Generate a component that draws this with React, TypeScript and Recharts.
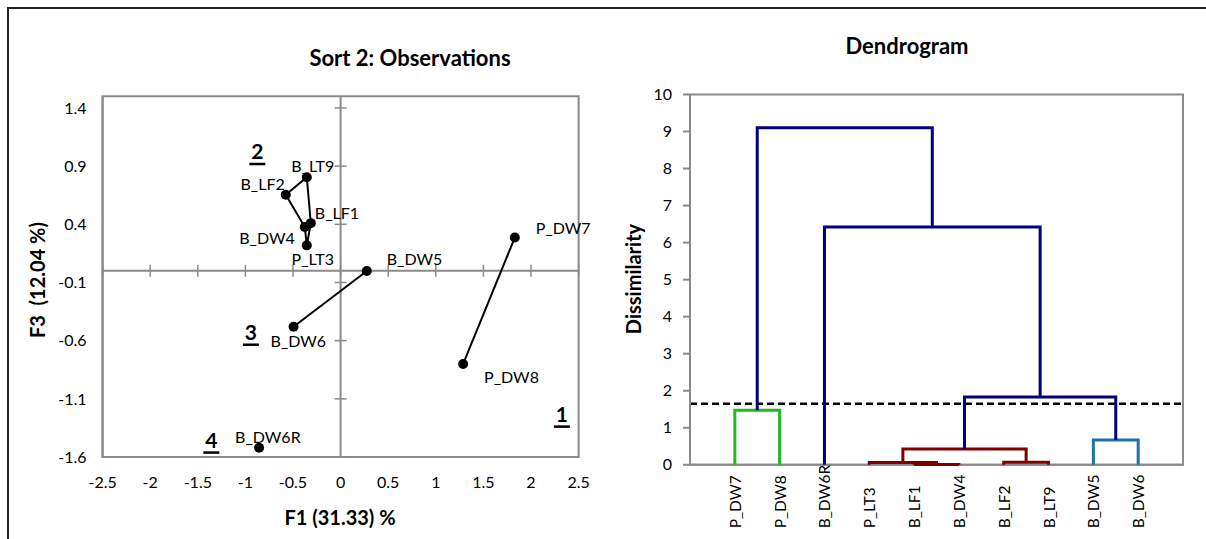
import React from 'react';
import { ScatterChart, Scatter, XAxis, YAxis, ReferenceLine, ReferenceArea } from 'recharts';

const FONT = 'Lato, "Open Sans", sans-serif';
const GRAY = '#8a8a8a';

// ---------- Observations chart (F1 vs F3) ----------
const obsNames = ['B_LT9', 'B_LF2', 'B_LF1', 'B_DW4', 'P_LT3', 'B_DW5', 'B_DW6', 'P_DW7', 'P_DW8', 'B_DW6R'];
const obsF1 = [-0.355, -0.576, -0.313, -0.376, -0.355, 0.275, -0.494, 1.83, 1.287, -0.856];
const obsF3 = [0.805, 0.654, 0.41, 0.376, 0.219, -0.002, -0.48, 0.286, -0.8, -1.52];
const f1Ticks = [-2.5, -2, -1.5, -1, -0.5, 0, 0.5, 1, 1.5, 2, 2.5];
const f3Ticks = [-1.6, -1.1, -0.6, -0.1, 0.4, 0.9, 1.4];
const groupOutlines = [
  ['B_LT9', 'B_LF2', 'B_DW4', 'P_LT3', 'B_LF1', 'B_LT9'],
  ['B_DW5', 'B_DW6'],
  ['P_DW7', 'P_DW8'],
];
const clusterIds = ['1', '2', '3', '4'];
const clusterF1 = [2.324, -0.874, -0.943, -1.358];
const clusterF3 = [-1.223, 1.034, -0.519, -1.446];

// label placement (pixels, relative to point)
const labelPlace: Record<string, { dx: number; dy: number; anchor: string }> = {
  B_LT9: { dx: 6, dy: -12, anchor: 'middle' },
  B_LF2: { dx: -1, dy: -11, anchor: 'end' },
  B_LF1: { dx: 4, dy: -11, anchor: 'start' },
  B_DW4: { dx: -10, dy: 10, anchor: 'end' },
  P_LT3: { dx: 6, dy: 13, anchor: 'middle' },
  B_DW5: { dx: 20, dy: -13, anchor: 'start' },
  B_DW6: { dx: -23, dy: 14, anchor: 'start' },
  P_DW7: { dx: 21, dy: -10, anchor: 'start' },
  P_DW8: { dx: 21, dy: 13, anchor: 'start' },
  B_DW6R: { dx: -24, dy: -11, anchor: 'start' },
};

// ---------- Dendrogram ----------
const leafNames = ['P_DW7', 'P_DW8', 'B_DW6R', 'P_LT3', 'B_LF1', 'B_DW4', 'B_LF2', 'B_LT9', 'B_DW5', 'B_DW6'];
const mergeLeft = [4, 3, 6, 11, 8, 0, 13, 2, 15];
const mergeRight = [5, 10, 7, 12, 9, 1, 14, 16, 17];
const mergeHeight = [0.01, 0.06, 0.07, 0.43, 0.67, 1.47, 1.83, 6.42, 9.1];
const mergeGroup = ['red', 'red', 'red', 'red', 'blue', 'green', 'navy', 'navy', 'navy'];
const dissimTicks = [0, 1, 2, 3, 4, 5, 6, 7, 8, 9, 10];
const leafTicks = [1, 2, 3, 4, 5, 6, 7, 8, 9, 10];
const truncationLevel = 1.65;

const groupColor: Record<string, string> = {
  red: '#800000',
  blue: '#1b74a6',
  green: '#1fbb1f',
  navy: '#00007f',
};

// build data for the scatter chart
const obsPoints = obsNames.map((n, i) => ({ name: n, x: obsF1[i], y: obsF3[i] }));
const outlineData = groupOutlines.map((g) =>
  g.map((n) => {
    const i = obsNames.indexOf(n);
    return { x: obsF1[i], y: obsF3[i] };
  })
);
const clusterData = clusterIds.map((c, i) => ({ id: c, x: clusterF1[i], y: clusterF3[i] }));
const xTickMarks = f1Ticks.map((t) => ({ x: t, y: 0 }));
const yTickMarks = f3Ticks.map((t) => ({ x: 0, y: t }));

// build dendrogram link data
const nodeX: number[] = leafNames.map((_, i) => i + 1);
const nodeH: number[] = leafNames.map(() => 0);
const links = mergeHeight.map((h, k) => {
  const l = mergeLeft[k];
  const r = mergeRight[k];
  const xl = nodeX[l];
  const xr = nodeX[r];
  nodeX.push((xl + xr) / 2);
  nodeH.push(h);
  return {
    color: groupColor[mergeGroup[k]],
    pts: [
      { x: xl, y: nodeH[l] },
      { x: xl, y: h },
      { x: xr, y: h },
      { x: xr, y: nodeH[r] },
    ],
  };
});

const Hidden = () => <g />;

const PointShape = (p: any) => {
  const { cx, cy, payload } = p;
  const lp = labelPlace[payload.name];
  return (
    <g>
      <circle cx={cx} cy={cy} r={5} fill="#000" />
      <text
        x={cx + lp.dx}
        y={cy + lp.dy}
        textAnchor={lp.anchor as any}
        dominantBaseline="central"
        fontFamily={FONT}
        fontSize={16}
        fill="#000"
      >
        {payload.name}
      </text>
    </g>
  );
};

const ClusterShape = (p: any) => {
  const { cx, cy, payload } = p;
  return (
    <g>
      <text
        x={cx}
        y={cy}
        textAnchor="middle"
        dominantBaseline="central"
        fontFamily={FONT}
        fontWeight="bold"
        fontSize={21}
        fill="#000"
      >
        {payload.id}
      </text>
      <line x1={cx - 8} x2={cx + 8} y1={cy + 13.5} y2={cy + 13.5} stroke="#000" strokeWidth={2.5} />
    </g>
  );
};

const VTick = (p: any) => <line x1={p.cx} x2={p.cx} y1={p.cy - 6} y2={p.cy + 6} stroke={GRAY} strokeWidth={1.5} />;
const HTick = (p: any) => <line x1={p.cx - 6} x2={p.cx + 6} y1={p.cy} y2={p.cy} stroke={GRAY} strokeWidth={1.5} />;

// rotated leaf names, bottom-aligned (reading upwards)
const LeafTick = (p: any) => {
  const { x, y, payload } = p;
  return (
    <text
      x={x}
      y={y}
      transform={`rotate(-90 ${x} ${y})`}
      textAnchor="start"
      dominantBaseline="central"
      fontFamily={FONT}
      fontSize={15.5}
      fill="#000"
    >
      {leafNames[payload.value - 1]}
    </text>
  );
};

const tickStyle = { fill: '#000', fontSize: 16, fontFamily: FONT };

const titleStyle = (x: number, y: number, size: number, rotate = false): React.CSSProperties => ({
  position: 'absolute',
  left: x,
  top: y,
  transform: `translate(-50%, -50%)${rotate ? ' rotate(-90deg)' : ''}`,
  fontFamily: FONT,
  fontWeight: 'bold',
  fontSize: size,
  whiteSpace: 'pre',
  color: '#000',
  lineHeight: 1,
});

export default function App() {
  return (
    <div style={{ position: 'absolute', left: 0, top: 0, width: 1206, height: 539, overflow: 'hidden', background: '#fff' }}>
      <div style={{ position: 'absolute', left: 7, top: 7, width: 1400, height: 700, border: '2px solid #222' }} />

      <div style={{ position: 'absolute', left: 0, top: 0 }}>
        <ScatterChart width={600} height={539} margin={{ top: 96.3, right: 21.4, left: 0, bottom: 42 }}>
          <XAxis
            type="number"
            dataKey="x"
            domain={[-2.5, 2.5]}
            ticks={f1Ticks}
            interval={0}
            tickLine={false}
            tickSize={0}
            tickMargin={20}
            axisLine={{ stroke: GRAY, strokeWidth: 2 }}
            tick={tickStyle}
            height={40}
          />
          <YAxis
            type="number"
            dataKey="y"
            domain={[-1.6, 1.5]}
            ticks={f3Ticks}
            interval={0}
            tickLine={false}
            tickSize={0}
            tickMargin={16}
            axisLine={{ stroke: GRAY, strokeWidth: 2 }}
            tick={tickStyle}
            width={102.6}
          />
          <ReferenceArea x1={-2.5} x2={2.5} y1={-1.6} y2={1.5} fill="none" stroke={GRAY} strokeWidth={2} ifOverflow="visible" />
          <ReferenceLine y={0} stroke={GRAY} strokeWidth={2} />
          <ReferenceLine x={0} stroke={GRAY} strokeWidth={2} />
          <Scatter data={xTickMarks} shape={VTick} isAnimationActive={false} legendType="none" />
          <Scatter data={yTickMarks} shape={HTick} isAnimationActive={false} legendType="none" />
          {outlineData.map((d, i) => (
            <Scatter
              key={'o' + i}
              data={d}
              shape={Hidden}
              line={{ stroke: '#000', strokeWidth: 2 }}
              fill="#000"
              isAnimationActive={false}
              legendType="none"
            />
          ))}
          <Scatter data={obsPoints} shape={PointShape} isAnimationActive={false} legendType="none" />
          <Scatter data={clusterData} shape={ClusterShape} isAnimationActive={false} legendType="none" />
        </ScatterChart>
      </div>

      <div style={{ position: 'absolute', left: 600, top: 0 }}>
        <ScatterChart width={606} height={539} margin={{ top: 94.5, right: 23, left: 0, bottom: 0 }}>
          <XAxis
            type="number"
            dataKey="x"
            domain={[0, 11]}
            ticks={leafTicks}
            interval={0}
            tickLine={false}
            tickSize={0}
            tickMargin={63.5}
            axisLine={{ stroke: GRAY, strokeWidth: 2 }}
            tick={LeafTick}
            height={74.2}
          />
          <YAxis
            type="number"
            dataKey="y"
            domain={[0, 10]}
            ticks={dissimTicks}
            interval={0}
            tickLine={{ stroke: GRAY, strokeWidth: 2 }}
            tickSize={7}
            tickMargin={11}
            axisLine={{ stroke: GRAY, strokeWidth: 2 }}
            tick={tickStyle}
            width={90}
          />
          <ReferenceArea x1={0} x2={11} y1={0} y2={10} fill="none" stroke={GRAY} strokeWidth={2} ifOverflow="visible" />
          {links.map((l, i) => (
            <Scatter
              key={'l' + i}
              data={l.pts}
              shape={Hidden}
              line={{ stroke: l.color, strokeWidth: 3 }}
              fill={l.color}
              isAnimationActive={false}
              legendType="none"
            />
          ))}
          <ReferenceLine y={truncationLevel} stroke="#000" strokeWidth={2.5} strokeDasharray="7 4" />
        </ScatterChart>
      </div>

      <div style={titleStyle(410, 58, 22)}>Sort 2: Observations</div>
      <div style={titleStyle(340, 517, 20)}>F1 (31.33) %</div>
      <div style={titleStyle(37, 280, 20, true)}>{'F3  (12.04 %)'}</div>
      <div style={titleStyle(907, 46, 22)}>Dendrogram</div>
      <div style={titleStyle(633, 279, 20, true)}>Dissimilarity</div>
    </div>
  );
}
